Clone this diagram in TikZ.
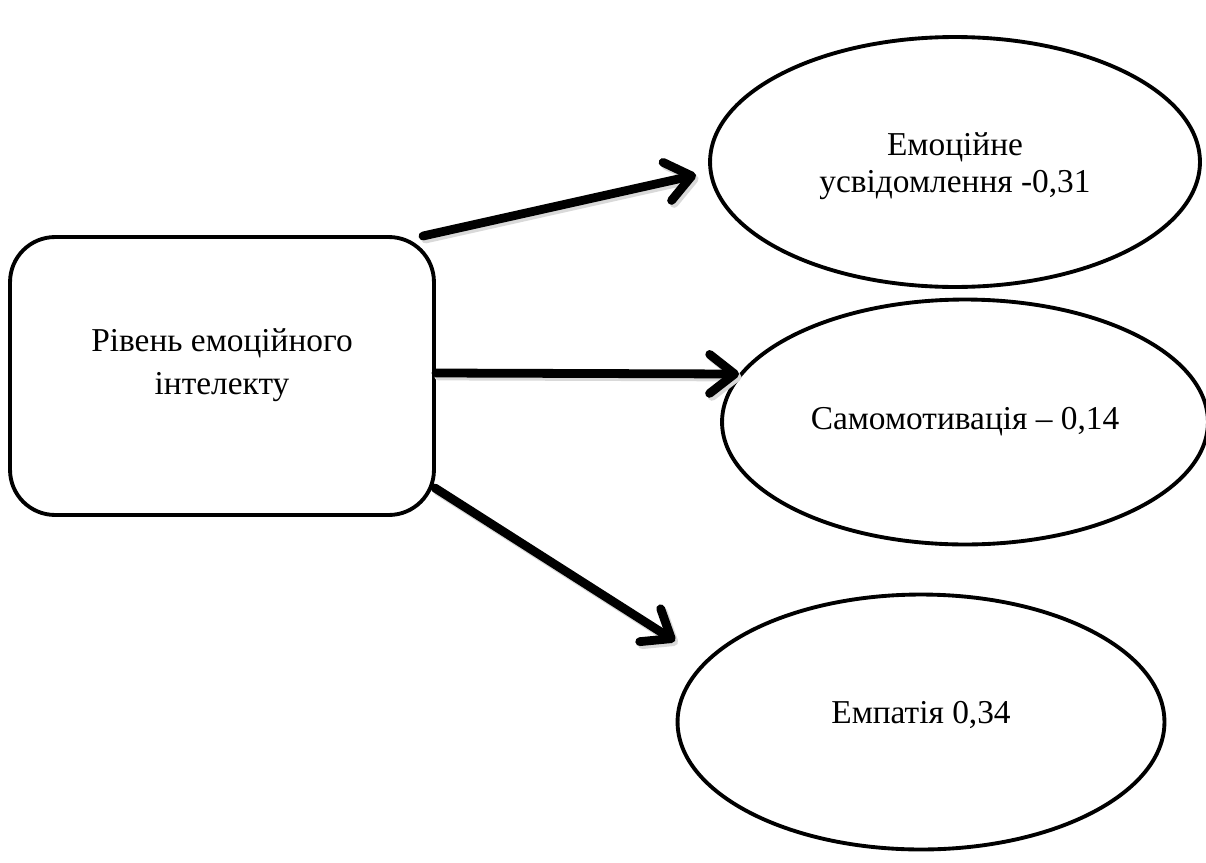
\documentclass[tikz,border=0pt]{standalone}
\usepackage{fontspec}
\setmainfont{Liberation Serif}
\usetikzlibrary{shapes.geometric,arrows.meta}
\begin{document}
\begin{tikzpicture}[x=0.02cm,y=-0.02cm,
  every node/.style={font=\fontsize{19}{21}\selectfont, align=center},
  oval/.style={draw, ellipse, line width=2.2pt, inner sep=0pt},
  mainbox/.style={draw, rounded corners=0.9cm, line width=2.2pt, minimum width=8.48cm, minimum height=5.56cm},
  arrowtip/.style={-{Straight Barb[length=0.5cm,width=0.78cm,line cap=round,line join=round]}},
  shade/.style={line width=5pt, line cap=round, arrowtip, black!15, transform canvas={shift={(0.05cm,-0.06cm)}}},
  conn/.style={line width=5pt, line cap=round, arrowtip}]
\useasboundingbox (0,0) rectangle (1206,862);
\clip (0,0) rectangle (1206,862);
\node[mainbox, label={[font=\fontsize{19}{24.5}\selectfont, align=center, yshift=0.22cm]center:Рівень емоційного\\інтелекту}] (ei) at (222,376) {};
\node[oval, minimum width=9.8cm, minimum height=5cm, label={[yshift=-0.08cm]center:Емоційне\\усвідомлення -0,31}] (aw) at (955,162) {};
\node[oval, minimum width=9.72cm, minimum height=4.9cm] (mo) at (965,422) {Самомотивація – 0,14};
\node[oval, minimum width=9.74cm, minimum height=5.1cm, label={[yshift=0.14cm]center:Емпатія 0,34}] (em) at (921,722) {};
\coordinate (s1) at (423,236);
\coordinate (t1) at (696,175);
\coordinate (s2) at (436,373);
\coordinate (t2) at (739,374);
\coordinate (s3) at (435,488);
\coordinate (t3) at (675,641);
\draw[shade] (s1) -- (t1);
\draw[shade] (s2) -- (t2);
\draw[shade] (s3) -- (t3);
\draw[conn] (s1) -- (t1);
\draw[conn] (s2) -- (t2);
\draw[conn] (s3) -- (t3);
\end{tikzpicture}
\end{document}
